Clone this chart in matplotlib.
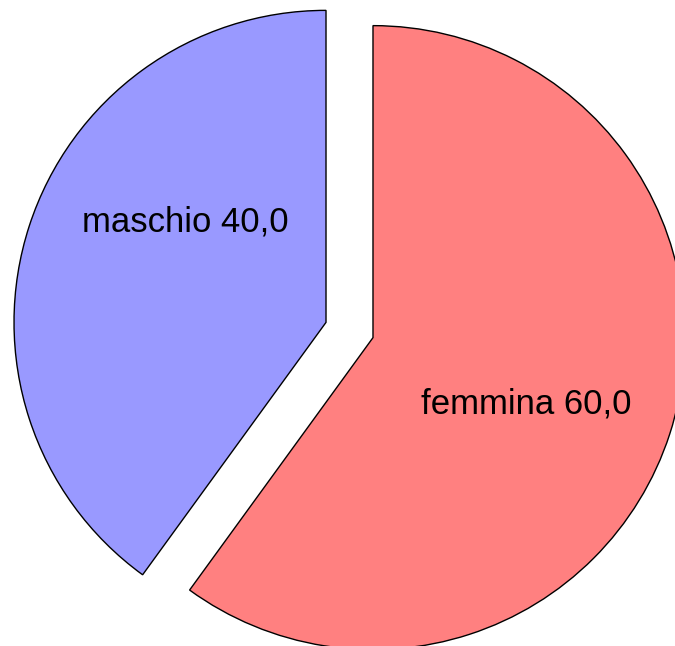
import matplotlib
matplotlib.use("Agg")
import matplotlib.pyplot as plt

categories = ["femmina", "maschio"]
values = [60.0, 40.0]
colors = ["#FF8080", "#9999FF"]

W, H = 675, 646
fig = plt.figure(figsize=(W / 100, H / 100), dpi=100)
ax = fig.add_axes([0, 0, 1, 1])

R = 312
cx, cy = 349.5, H - 330
gap = 24.7
wedges, _ = ax.pie(
    values, colors=colors, startangle=90, counterclock=False,
    explode=[gap, gap], radius=R, center=(cx, cy),
    wedgeprops=dict(edgecolor="black", linewidth=1.0),
)
ax.set_xlim(0, W)
ax.set_ylim(0, H)
ax.set_aspect("equal")
ax.axis("off")

label_pos = [(526, H - 404), (185, H - 222)]
for name, v, (x, y) in zip(categories, values, label_pos):
    ax.text(x, y, f"{name} {v:.1f}".replace(".", ","), ha="center", va="center",
            fontsize=25, family=["Liberation Sans", "DejaVu Sans"], color="black")

fig.savefig("out.png", dpi=100, facecolor="white")
